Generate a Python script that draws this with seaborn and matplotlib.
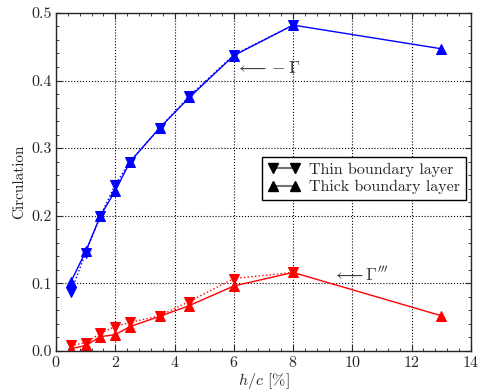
import matplotlib
matplotlib.use("Agg", force=True)
import matplotlib.pyplot as plt
from matplotlib.lines import Line2D
from matplotlib.ticker import AutoMinorLocator
import pandas as pd
import seaborn as sns

# h/c [%]
hc_thin = [0.5, 1.0, 1.5, 2.0, 2.5, 3.5, 4.5, 6.0, 8.0]
hc_thick = [0.5, 1.0, 1.5, 2.0, 2.5, 3.5, 4.5, 6.0, 8.0, 13.0]

# -Gamma (blue)
gamma_thin = [0.087, 0.145, 0.200, 0.246, 0.280, 0.330, 0.377, 0.438, 0.482]
gamma_thick = [0.102, 0.147, 0.200, 0.237, 0.280, 0.330, 0.375, 0.437, 0.482, 0.447]

# Gamma''' (red)
gamma3_thin = [0.008, 0.012, 0.026, 0.036, 0.042, 0.052, 0.073, 0.107, 0.116]
gamma3_thick = [0.003, 0.008, 0.021, 0.024, 0.036, 0.051, 0.067, 0.096, 0.116, 0.052]

sns.set_style("ticks")
plt.rcParams["font.family"] = "serif"
plt.rcParams["font.serif"] = ["cmr10", "DejaVu Serif"]
plt.rcParams["mathtext.fontset"] = "cm"
plt.rcParams["axes.unicode_minus"] = False
plt.rcParams["axes.formatter.use_mathtext"] = True

fig = plt.figure(figsize=(4.79, 3.92), dpi=100)
ax = fig.add_axes([0.117, 0.105, 0.866, 0.862])

series = [
    (hc_thin, gamma_thin, "blue", ":", "v"),
    (hc_thick, gamma_thick, "blue", "-", "^"),
    (hc_thin, gamma3_thin, "red", ":", "v"),
    (hc_thick, gamma3_thick, "red", "-", "^"),
]
for xs, ys, col, ls, mk in series:
    df = pd.DataFrame({"hc": xs, "circ": ys})
    sns.lineplot(data=df, x="hc", y="circ", color=col, linestyle=ls, marker=mk,
                 markersize=7, markeredgecolor=col, linewidth=1.0, ax=ax)

ax.set_xlim(0, 14)
ax.set_ylim(0, 0.5)
ax.set_xticks(range(0, 15, 2))
ax.set_yticks([0.0, 0.1, 0.2, 0.3, 0.4, 0.5])
ax.yaxis.set_major_formatter(matplotlib.ticker.FormatStrFormatter("%.1f"))
ax.xaxis.set_minor_locator(AutoMinorLocator(5))
ax.yaxis.set_minor_locator(AutoMinorLocator(5))
ax.tick_params(which="both", direction="in", top=True, right=True, labelsize=11.5, pad=3)
ax.tick_params(which="major", length=4)
ax.tick_params(which="minor", length=2)
ax.grid(True, which="major", color="black", linestyle=":", linewidth=0.8)
for sp in ax.spines.values():
    sp.set_linewidth(1.0)

ax.set_xlabel("$h/c$ [%]", fontsize=11.5, labelpad=1)
ax.set_ylabel("Circulation", fontsize=11, labelpad=4)

ax.text(6.05, 0.419, r"$\longleftarrow -\Gamma$", fontsize=12.5, va="center", ha="left", color="0.25")
ax.text(9.3, 0.113, r"$\longleftarrow \Gamma'''$", fontsize=12.5, va="center", ha="left", color="0.25")

handles = [
    Line2D([], [], color="0.45", marker="v", markerfacecolor="k", markeredgecolor="k", markersize=6.5),
    Line2D([], [], color="0.45", marker="^", markerfacecolor="k", markeredgecolor="k", markersize=6.5),
]
ax.legend(handles, ["Thin boundary layer", "Thick boundary layer"], loc="upper right",
          bbox_to_anchor=(0.988, 0.574), numpoints=2, handlelength=2.0, handletextpad=0.6,
          fontsize=11.5, frameon=True, fancybox=False, edgecolor="black",
          borderpad=0.35, labelspacing=0.2, borderaxespad=0.0, framealpha=1)

fig.savefig("out.png", dpi=100)
